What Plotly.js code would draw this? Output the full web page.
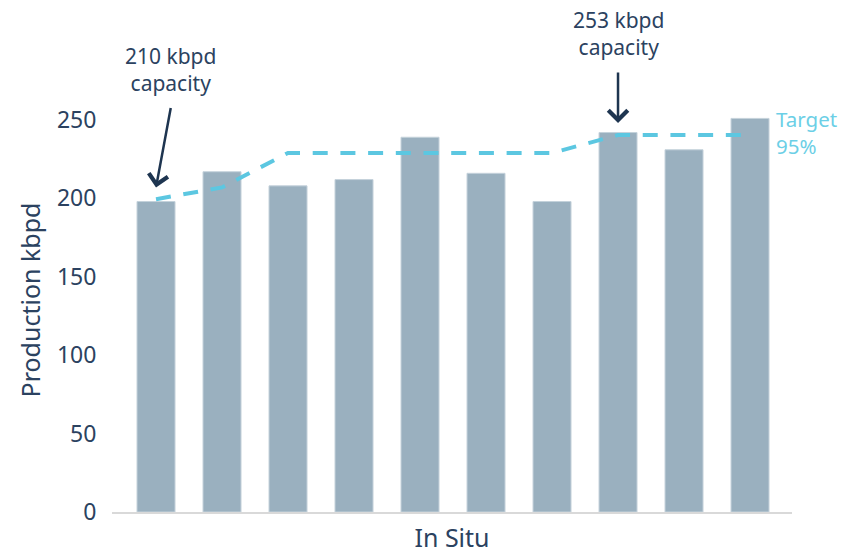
<!DOCTYPE html>
<html>
<head>
<meta charset="utf-8">
<script src="https://cdn.plot.ly/plotly-3.0.1.min.js"></script>
<style>html,body{margin:0;padding:0;background:#fff;}#chart{width:856px;height:554px;}</style>
</head>
<body>
<div id="chart"></div>
<script>
var categories = ['1','2','3','4','5','6','7','8','9','10'];
var production = [198, 217, 208, 212, 239, 216, 198, 242, 231, 251];
var target = [199.5, 207, 229, 229, 229, 229, 229, 240.4, 240.4, 240.4];
var yTicks = [0, 50, 100, 150, 200, 250];
var noteIndex = [0, 7];
var noteText = ['210 kbpd<br>capacity', '253 kbpd<br>capacity'];
var noteTip = [207, 248];

var navy = '#2b4260';
var font = 'Noto Sans, Open Sans, sans-serif';

var traces = [
  {
    type: 'bar',
    x: categories,
    y: production,
    width: 0.576,
    marker: {color: '#9ab0bf', line: {color: '#c5d2db', width: 1}},
    hoverinfo: 'y',
    showlegend: false,
    cliponaxis: false
  },
  {
    type: 'scatter',
    mode: 'lines',
    x: categories,
    y: target,
    line: {color: '#5cc7e1', width: 4, dash: '15px,12.7px'},
    showlegend: false,
    cliponaxis: false
  }
];

var annotations = [
  {
    x: noteIndex[0], y: noteTip[0], xref: 'x', yref: 'y',
    ax: 15, ay: -81, text: '', showarrow: true,
    arrowhead: 4, arrowsize: 1.5, arrowwidth: 2.5, arrowcolor: '#1e3550'
  },
  {
    x: noteIndex[0], y: noteTip[0], xref: 'x', yref: 'y', xshift: 14, yshift: 118,
    text: noteText[0], showarrow: false,
    font: {family: font, size: 21, color: navy}
  },
  {
    x: noteIndex[1], y: noteTip[1], xref: 'x', yref: 'y',
    ax: 0, ay: -52, text: '', showarrow: true,
    arrowhead: 4, arrowsize: 1.5, arrowwidth: 2.5, arrowcolor: '#1e3550'
  },
  {
    x: noteIndex[1], y: noteTip[1], xref: 'x', yref: 'y', yshift: 90,
    text: noteText[1], showarrow: false,
    font: {family: font, size: 21, color: navy}
  },
  {
    x: 9, y: target[9], xref: 'x', yref: 'y',
    xanchor: 'left', yanchor: 'middle', align: 'left', xshift: 24, yshift: 3,
    text: 'Target<br>95%', showarrow: false,
    font: {family: font, size: 20.5, color: '#6ccfe6'}
  }
];

var layout = {
  width: 856, height: 554,
  margin: {l: 112, r: 64, t: 88, b: 42},
  paper_bgcolor: '#ffffff', plot_bgcolor: '#ffffff',
  font: {family: font, color: navy, size: 23},
  xaxis: {
    type: 'category',
    range: [-0.667, 9.636],
    showticklabels: false, ticks: '',
    showgrid: false, zeroline: false,
    showline: true, linecolor: '#d9d9d9', linewidth: 2,
    title: {text: 'In Situ', font: {family: font, size: 25, color: navy}, standoff: 16}
  },
  yaxis: {
    range: [0, 270.4],
    tickvals: yTicks,
    ticks: 'outside', ticklen: 10, tickcolor: 'rgba(0,0,0,0)',
    tickfont: {family: font, size: 23, color: navy},
    showgrid: false, zeroline: false, showline: false,
    title: {text: 'Production kbpd', font: {family: font, size: 25, color: navy}, standoff: 9}
  },
  annotations: annotations
};

Plotly.newPlot('chart', traces, layout, {displayModeBar: false, staticPlot: true});
</script>
</body>
</html>
